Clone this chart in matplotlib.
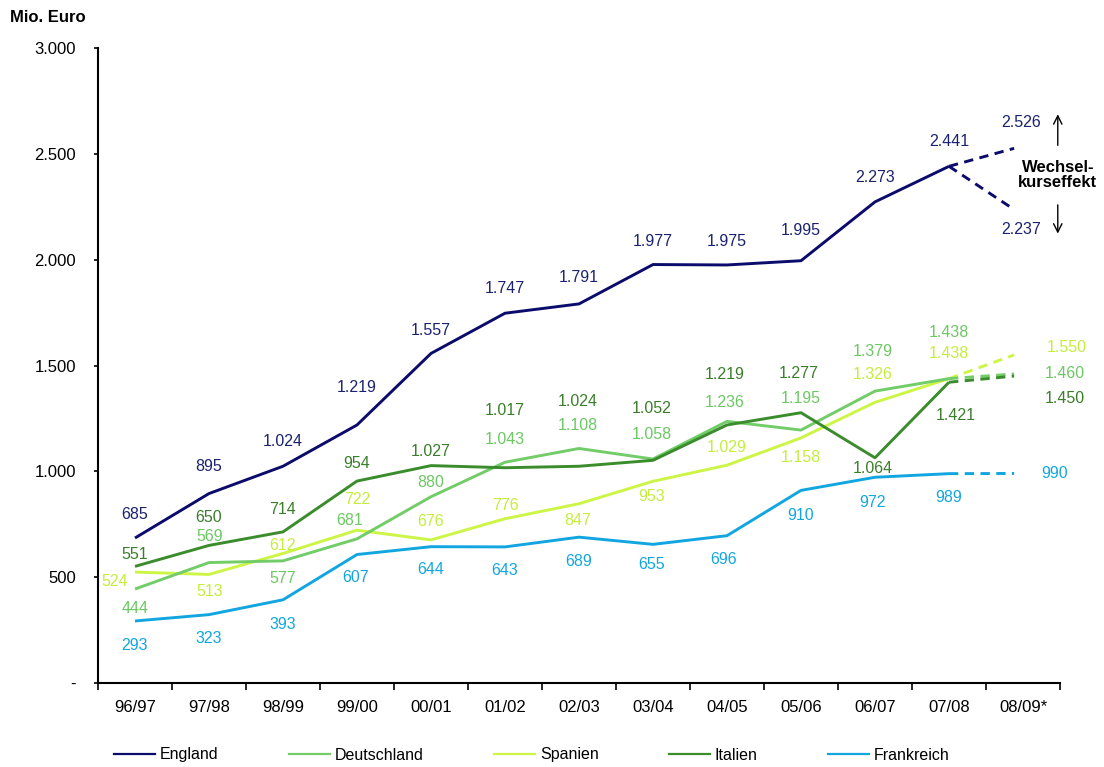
import matplotlib
matplotlib.use("Agg")
import matplotlib.pyplot as plt
from matplotlib.lines import Line2D

plt.rcParams['font.family'] = ['Liberation Sans', 'DejaVu Sans']

# ---------------- data ----------------
seasons = ["96/97", "97/98", "98/99", "99/00", "00/01", "01/02", "02/03",
           "03/04", "04/05", "05/06", "06/07", "07/08", "08/09*"]
yticks_vals = [0, 500, 1000, 1500, 2000, 2500, 3000]
ytick_labels = ["-", "500", "1.000", "1.500", "2.000", "2.500", "3.000"]

england = [685, 895, 1024, 1219, 1557, 1747, 1791, 1977, 1975, 1995, 2273, 2441]
deutschland = [444, 569, 577, 681, 880, 1043, 1108, 1058, 1236, 1195, 1379, 1438]
spanien = [524, 513, 612, 722, 676, 776, 847, 953, 1029, 1158, 1326, 1438]
italien = [551, 650, 714, 954, 1027, 1017, 1024, 1052, 1219, 1277, 1064, 1421]
frankreich = [293, 323, 393, 607, 644, 643, 689, 655, 696, 910, 972, 989]

england_forecast = [2526, 2237]
deutschland_forecast = [1460]
spanien_forecast = [1550]
italien_forecast = [1450]
frankreich_forecast = [990]

names = ["England", "Deutschland", "Spanien", "Italien", "Frankreich"]

# ---------------- style ----------------
line_colors = {"England": "#0b0b6b", "Deutschland": "#72cc68", "Spanien": "#ccf545",
               "Italien": "#3a8c2c", "Frankreich": "#12a6e0"}
text_colors = {"England": "#1a2270", "Deutschland": "#6cc862", "Spanien": "#c4ee3c",
               "Italien": "#3a7e2a", "Frankreich": "#12a6e0"}

# label offsets in pixels (dx, dy) for each point
offsets = {
    "England": [(0, 24), (0, 27), (0, 25), (0, 37), (0, 23), (0, 25), (0, 26),
                (0, 23), (0, 23), (0, 30), (0, 24), (0, 25)],
    "Deutschland": [(0, -19), (1, 26), (0, -18), (-7, 18), (0, 14), (0, 23), (-1, 23),
                    (-1, 25), (-2, 19), (0, 32), (-2, 40), (0, 46)],
    "Spanien": [(-20, -9), (1, -17), (0, 8), (0, 31), (0, 18), (0, 13), (-1, -17),
                (-1, -15), (0, 18), (0, -20), (-2, 28), (0, 25)],
    "Italien": [(0, 12), (0, 28), (0, 22), (0, 18), (0, 14), (0, 57), (-1, 65),
                (-1, 52), (-2, 50), (-2, 39), (-2, -11), (7, -33)],
    "Frankreich": [(0, -25), (0, -24), (0, -25), (-1, -23), (0, -23), (0, -24), (0, -24),
                   (-1, -20), (-3, -24), (0, -25), (-2, -25), (0, -24)],
}
forecast_offsets = {
    "England": [(7, 26), (7, -20)],
    "Deutschland": [(51, 0)],
    "Spanien": [(53, 7)],
    "Italien": [(51, -22)],
    "Frankreich": [(40, 0)],
}
forecast_end_shift = 0.12

series = {"England": england, "Deutschland": deutschland, "Spanien": spanien,
          "Italien": italien, "Frankreich": frankreich}
forecasts = {"England": england_forecast, "Deutschland": deutschland_forecast,
             "Spanien": spanien_forecast, "Italien": italien_forecast,
             "Frankreich": frankreich_forecast}


def fmt(v):
    return f"{v:,}".replace(",", ".")


fig = plt.figure(figsize=(11.04, 7.67), dpi=100)
ax = fig.add_axes([98 / 1104, 1 - 683 / 767, (1060 - 98) / 1104, (683 - 48) / 767])

x = list(range(len(seasons)))
draw_order = ["Frankreich", "Spanien", "Deutschland", "Italien", "England"]
for name in draw_order:
    vals = series[name]
    col = line_colors[name]
    ax.plot(x[:len(vals)], vals, color=col, lw=2.1, solid_capstyle='butt', zorder=3)
    last = len(vals) - 1
    for fv in forecasts[name]:
        ax.plot([x[last], x[last + 1] - forecast_end_shift], [vals[last], fv],
                color=col, lw=2.1, ls=(0, (3.2, 2.2)), zorder=3)

for name in names:
    vals = series[name]
    tc = text_colors[name]
    for i, v in enumerate(vals):
        dx, dy = offsets[name][i]
        ax.annotate(fmt(v), (x[i], v), xytext=(dx, dy), textcoords='offset pixels',
                    ha='center', va='center', fontsize=11.5, color=tc, zorder=4,
                    annotation_clip=False)
    last = len(vals) - 1
    for j, fv in enumerate(forecasts[name]):
        dx, dy = forecast_offsets[name][j]
        ax.annotate(fmt(fv), (x[last + 1] - forecast_end_shift, fv), xytext=(dx, dy),
                    textcoords='offset pixels', ha='center', va='center',
                    fontsize=11.5, color=tc, zorder=4, annotation_clip=False)

# exchange-rate effect annotation
ax.text(12.47, 2400, "Wechsel-\nkurseffekt", ha='center', va='center', fontsize=12,
        fontweight='bold', linespacing=1.05, clip_on=False)
ax.annotate("", xy=(12.47, 2700), xytext=(12.47, 2527),
            arrowprops=dict(arrowstyle='->', lw=1.0, color='black',
                            mutation_scale=15), annotation_clip=False)
ax.annotate("", xy=(12.47, 2110), xytext=(12.47, 2272),
            arrowprops=dict(arrowstyle='->', lw=1.0, color='black',
                            mutation_scale=15), annotation_clip=False)

ax.set_xlim(-0.5, len(seasons) - 0.5)
ax.set_ylim(0, 3000)
ax.set_yticks(yticks_vals)
ax.set_yticklabels(ytick_labels, fontsize=12)
ax.set_xticks([i + 0.5 for i in range(-1, len(seasons))], minor=False)
ax.set_xticklabels([])
ax.set_xticks(x, minor=True)
ax.set_xticklabels(seasons, minor=True, fontsize=12)
ax.tick_params(axis='x', which='major', length=5, width=1.2, direction='out')
ax.tick_params(axis='x', which='minor', length=0, pad=12)
ax.tick_params(axis='y', length=3, width=1.2, pad=13)

for s in ["top", "right"]:
    ax.spines[s].set_visible(False)
for s in ["left", "bottom"]:
    ax.spines[s].set_linewidth(1.5)

fig.text(10 / 1104, 1 - 17 / 767, "Mio. Euro", fontsize=12, fontweight='bold',
         ha='left', va='center')

handles = [Line2D([0], [0], color=line_colors[n], lw=1.6) for n in names]
fig.legend(handles, names, loc='center', bbox_to_anchor=(532 / 1104, 1 - 755 / 767),
           ncol=5, frameon=False, fontsize=11.5, handlelength=2.57, handletextpad=0.3,
           columnspacing=4.4)

fig.savefig("out.png", dpi=100)
